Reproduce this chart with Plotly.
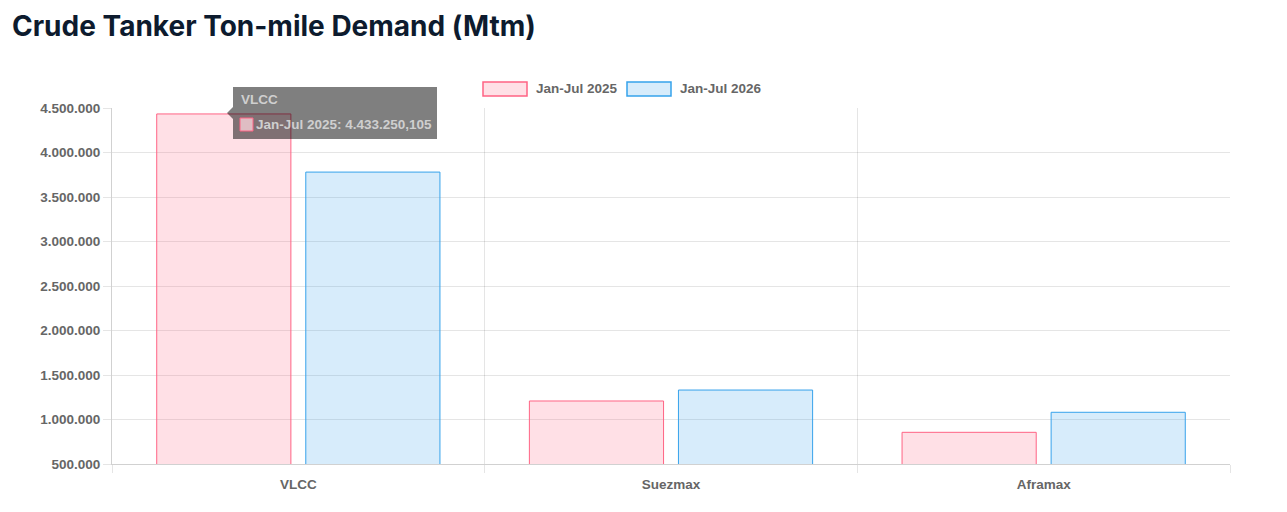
import plotly.graph_objects as go

# data
vessel_classes = ["VLCC", "Suezmax", "Aframax"]
series_names = ["Jan-Jul 2025", "Jan-Jul 2026"]
demand_2025 = [4433250.105, 1208000, 856000]
demand_2026 = [3780000, 1331000, 1081000]

line_colors = ["rgb(255,99,132)", "rgb(54,162,235)"]
fill_colors = ["rgba(255,99,132,0.2)", "rgba(54,162,235,0.2)"]

# the page body has an 8px margin, so everything is placed 8px up/left
OFF = 8
W, H = 1287, 512
L, R, T, B = 112 - OFF, 65, 108 - OFF, 56
pw, ph = W - L - R, H - T - B


def px_x(x):
    # screen pixel -> paper x
    return (x - OFF - L) / pw


def px_y(y):
    # screen pixel -> paper y
    return (H - B - (y - OFF)) / ph


fig = go.Figure()
for name, vals, lc, fc in zip(series_names, [demand_2025, demand_2026], line_colors, fill_colors):
    fig.add_trace(go.Bar(
        x=vessel_classes, y=vals, name=name,
        marker=dict(color=fc, line=dict(color=lc, width=1)),
        showlegend=False,
    ))

grid = "rgba(0,0,0,0.1)"
tick_font = dict(family="Liberation Sans, Arial, sans-serif", size=13.5, color="#666")

fig.update_layout(
    width=W, height=H,
    margin=dict(l=L, r=R, t=T, b=B),
    paper_bgcolor="white", plot_bgcolor="white",
    separators=",.",
    barmode="group", bargap=0.2, bargroupgap=0.1,
    title=dict(
        text="<b>Crude Tanker Ton-mile Demand (Mtm)</b>",
        font=dict(family="Inter, sans-serif", size=28, color="#0d1b2e"),
        x=(12 - OFF) / W, xref="container", xanchor="left",
        y=1 - (26 - OFF) / H, yref="container", yanchor="middle",
    ),
    xaxis=dict(
        tickson="boundaries", showgrid=True, gridcolor=grid,
        ticks="outside", ticklen=8, tickcolor=grid,
        showline=True, linecolor="rgba(0,0,0,0.18)",
        tickfont=tick_font, tickprefix="<b>", ticksuffix="</b>",
        ticklabelstandoff=8,
    ),
    yaxis=dict(
        range=[500000, 4500000], dtick=500000, tickformat=",d",
        showgrid=True, gridcolor=grid,
        ticks="outside", ticklen=8, tickcolor=grid,
        showline=True, linecolor="rgba(0,0,0,0.18)",
        tickfont=tick_font, tickprefix="<b>", ticksuffix="</b>",
        zeroline=False,
    ),
)

# legend drawn by hand to get the wide chart.js boxes
leg_x = [483, 627]
for name, lx, lc, fc in zip(series_names, leg_x, line_colors, fill_colors):
    fig.add_shape(type="rect", xref="paper", yref="paper",
                  x0=px_x(lx), x1=px_x(lx + 44), y0=px_y(96), y1=px_y(82),
                  fillcolor=fc, line=dict(color=lc, width=1.5))
    fig.add_annotation(xref="paper", yref="paper", x=px_x(lx + 51), y=px_y(89),
                       text="<b>" + name + "</b>", showarrow=False,
                       xanchor="left", yanchor="middle", font=tick_font)

# hover tooltip as in the screenshot
tip = "rgba(0,0,0,0.5)"
fig.add_shape(type="rect", xref="paper", yref="paper",
              x0=px_x(233), x1=px_x(437), y0=px_y(139), y1=px_y(87),
              fillcolor=tip, line=dict(width=0), layer="above")
fig.add_shape(type="path", xref="paper", yref="paper", layer="above",
              path=f"M {px_x(233)} {px_y(107)} L {px_x(227)} {px_y(113)} L {px_x(233)} {px_y(119)} Z",
              fillcolor=tip, line=dict(width=0))
fig.add_shape(type="rect", xref="paper", yref="paper", layer="above",
              x0=px_x(240), x1=px_x(253), y0=px_y(131), y1=px_y(118),
              fillcolor="rgba(255,215,222,0.75)", line=dict(color=line_colors[0], width=1))
tip_font = dict(family="Liberation Sans, Arial, sans-serif", size=13.5, color="#cfcfcf")
fig.add_annotation(xref="paper", yref="paper", x=px_x(239), y=px_y(100),
                   text="<b>" + vessel_classes[0] + "</b>", showarrow=False,
                   xanchor="left", yanchor="middle", font=tip_font)
fig.add_annotation(xref="paper", yref="paper", x=px_x(254), y=px_y(124),
                   text="<b>" + series_names[0] + ": 4.433.250,105</b>", showarrow=False,
                   xanchor="left", yanchor="middle", font=tip_font)

fig.write_html("out.html")
